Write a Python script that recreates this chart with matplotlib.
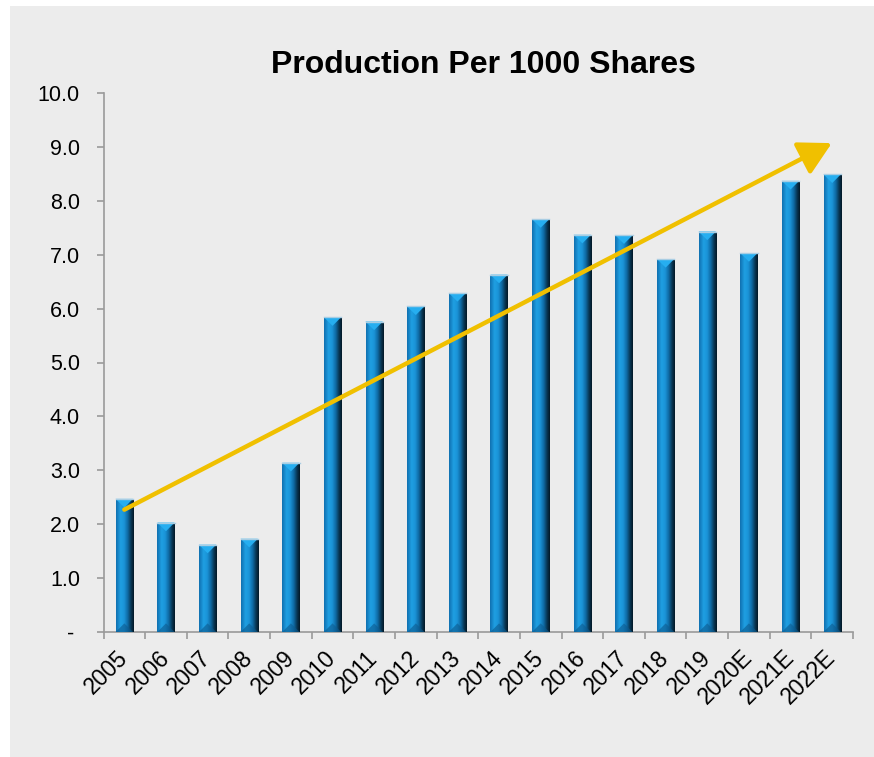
import numpy as np
import matplotlib
matplotlib.use("Agg")
import matplotlib.pyplot as plt
from matplotlib.colors import LinearSegmentedColormap
from matplotlib.patches import Polygon, Rectangle

plt.rcParams['font.family'] = ['Liberation Sans', 'DejaVu Sans']

# data
years = ['2005', '2006', '2007', '2008', '2009', '2010', '2011', '2012', '2013',
         '2014', '2015', '2016', '2017', '2018', '2019', '2020E', '2021E', '2022E']
production = [2.47, 2.03, 1.62, 1.73, 3.14, 5.84, 5.76, 6.04, 6.29,
              6.63, 7.66, 7.37, 7.36, 6.92, 7.43, 7.03, 8.37, 8.49]
y_ticks = [0, 1, 2, 3, 4, 5, 6, 7, 8, 9, 10]
y_labels = ['- '] + ['%.1f' % v for v in y_ticks[1:]]
# trend arrow (category index, value)
trend_start = (0.0, 2.27)
trend_end = (16.99, 9.07)

bg = '#ececec'
grad = LinearSegmentedColormap.from_list('bar', [
    (0.0, '#1070b0'), (0.25, '#1f9fe2'), (0.45, '#1b94d8'),
    (0.65, '#0f6ca6'), (0.85, '#083552'), (1.0, '#031826')])

fig = plt.figure(figsize=(8.74, 7.57), dpi=100)
fig.patch.set_facecolor('white')
fig.patches.append(Rectangle((10 / 874, 0), 1, 1 - 6 / 757, transform=fig.transFigure,
                             facecolor=bg, edgecolor='none', zorder=-10))

ax = fig.add_axes([103.5 / 874, 1 - 632 / 757, (853 - 103.5) / 874, (632 - 93) / 757])
ax.set_facecolor(bg)

x = np.arange(len(years))
bars = ax.bar(x, production, width=0.415, color='#1580bd', zorder=2)

# shaded cylinder look + bevelled ends
g = np.linspace(0, 1, 64).reshape(1, -1)
for b in bars:
    x0, w, h = b.get_x(), b.get_width(), b.get_height()
    im = ax.imshow(g, cmap=grad, aspect='auto', extent=[x0, x0 + w, 0, h],
                   zorder=3, interpolation='bilinear')
    im.set_clip_path(b)
    d = 0.16
    ax.add_patch(Polygon([[x0, h], [x0 + w, h], [x0 + w * 0.5, h - d]], closed=True,
                         facecolor='#26aef0', edgecolor='none', zorder=4))
    ax.add_patch(Polygon([[x0, 0], [x0 + w, 0], [x0 + w * 0.5, d]], closed=True,
                         facecolor='#0c5a8e', edgecolor='none', alpha=0.6, zorder=4))
    ax.plot([x0, x0 + w], [h, h], color='#a8cde3', lw=1, zorder=5)

ax.annotate('', xy=trend_end, xytext=trend_start,
            arrowprops=dict(arrowstyle='-|>,head_length=1.1,head_width=0.6',
                            color='#f0c000', lw=3.2, shrinkA=0, shrinkB=0,
                            mutation_scale=18),
            zorder=6)

ax.set_xlim(-0.5, len(years) - 0.5)
ax.set_ylim(0, 10)
ax.set_yticks(y_ticks)
ax.set_yticklabels(y_labels, fontsize=15.5)
ax.set_xticks(x)
ax.set_xticklabels(years, fontsize=16.5, rotation=45, ha='right', va='center',
                   rotation_mode='anchor')
ax.set_xticks(np.arange(len(years) + 1) - 0.5, minor=True)
ax.tick_params(axis='x', which='major', length=0, pad=16)
ax.tick_params(axis='x', which='minor', length=5, color='#9a9a9a', width=1.2)
ax.tick_params(axis='y', length=5, color='#9a9a9a', width=1.2, pad=12)

for s in ['top', 'right']:
    ax.spines[s].set_visible(False)
for s in ['left', 'bottom']:
    ax.spines[s].set_color('#9a9a9a')
    ax.spines[s].set_linewidth(1.2)

fig.text(483 / 874, 1 - 65 / 757, 'Production Per 1000 Shares', ha='center', va='center',
         fontsize=23, fontweight='bold')

fig.savefig('out.png', dpi=100)
